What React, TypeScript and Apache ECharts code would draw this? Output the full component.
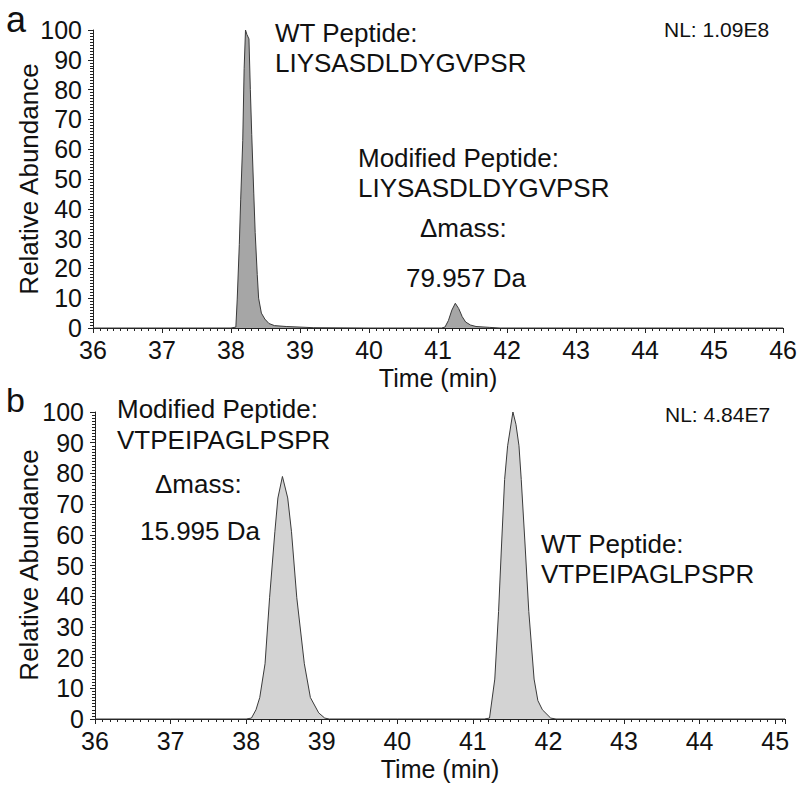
import React, { useEffect, useRef } from 'react';
import * as echarts from 'echarts';

// Panel a: LIYSASDLDYGVPSR chromatogram
const aTimes = [36.0, 37.0, 38.0, 38.07, 38.09, 38.12, 38.14, 38.17, 38.19, 38.21, 38.23, 38.26, 38.28, 38.30, 38.33, 38.35, 38.38, 38.40, 38.44, 38.49, 38.55, 38.63, 38.8, 39.0, 39.2, 40.0, 41.0, 41.05, 41.10, 41.15, 41.20, 41.25, 41.30, 41.35, 41.40, 41.47, 41.55, 41.75, 41.9, 43.0, 46.0];
const aValues = [0, 0, 0, 0.3, 9.7, 28, 43, 63, 87, 100, 98.5, 97, 80, 65, 45, 32, 18, 10, 5, 3, 1.5, 0.8, 0.5, 0.3, 0.1, 0, 0, 0, 0.3, 2.5, 6, 8.3, 6.5, 3.8, 2.0, 1.0, 0.5, 0.2, 0, 0, 0];

// Panel b: VTPEIPAGLPSPR chromatogram
const bTimes = [36.0, 37.0, 38.0, 38.07, 38.13, 38.18, 38.25, 38.31, 38.38, 38.42, 38.48, 38.55, 38.60, 38.67, 38.77, 38.85, 38.96, 39.04, 39.1, 40.0, 41.0, 41.15, 41.22, 41.29, 41.34, 41.38, 41.42, 41.46, 41.53, 41.57, 41.61, 41.64, 41.69, 41.74, 41.81, 41.86, 41.92, 42.03, 42.1, 43.0, 45.13];
const bValues = [0, 0, 0, 0.3, 3, 7, 18, 39.5, 61, 72, 79, 72, 61, 39.5, 18, 7, 2, 0.3, 0, 0, 0, 0, 0.3, 13, 35, 57, 78, 89, 100, 96, 89, 78, 57, 35, 13, 6, 3, 0.3, 0, 0, 0];

const yTicks = [0, 10, 20, 30, 40, 50, 60, 70, 80, 90, 100];

const FONT = '"Liberation Sans", Arial, Helvetica, sans-serif';

function zip(t: number[], v: number[]) {
  return t.map((x, i) => [x, v[i]]);
}

export default function App() {
  const ref = useRef<HTMLDivElement>(null);
  useEffect(() => {
    if (!ref.current) return;
    const chart = echarts.init(ref.current, undefined, { renderer: 'svg' });
    const axisColor = '#222';
    const mkX = (gridIndex: number, max: number, nameGap: number) => ({
      type: 'value',
      gridIndex,
      min: 36,
      max,
      interval: 1,
      name: 'Time (min)',
      nameLocation: 'middle',
      nameGap,
      nameTextStyle: { fontSize: 25, color: '#111', fontFamily: FONT },
      axisLine: { show: true, onZero: false, lineStyle: { color: axisColor, width: 1 } },
      axisTick: { show: true, inside: false, length: 5, lineStyle: { color: axisColor } },
      minorTick: { show: true, splitNumber: 10, length: 3, lineStyle: { color: axisColor } },
      splitLine: { show: false },
      minorSplitLine: { show: false },
      axisLabel: {
        fontSize: 25,
        color: '#111',
        fontFamily: FONT,
        margin: 9,
        formatter: (v: number) => (Math.abs(v - Math.round(v)) < 1e-6 ? String(Math.round(v)) : ''),
      },
    });
    const mkY = (gridIndex: number) => ({
      type: 'value',
      gridIndex,
      min: yTicks[0],
      max: yTicks[yTicks.length - 1],
      interval: 10,
      axisLine: { show: true, lineStyle: { color: axisColor, width: 1 } },
      axisTick: { show: true, inside: false, length: 5, lineStyle: { color: axisColor } },
      minorTick: { show: true, splitNumber: 10, length: 3, lineStyle: { color: axisColor } },
      splitLine: { show: false },
      axisLabel: { fontSize: 25, color: '#111', fontFamily: FONT, margin: 11 },
    });
    const txt = (text: string, x: number, y: number, size: number) => ({
      type: 'text',
      x,
      y,
      style: {
        text,
        fontSize: size,
        fontFamily: FONT,
        fill: '#111',
        textVerticalAlign: 'middle',
        verticalAlign: 'middle',
      },
    });
    const vtxt = (text: string, x: number, y: number, size: number) => ({
      type: 'text',
      x,
      y,
      rotation: Math.PI / 2,
      style: {
        text,
        fontSize: size,
        fontFamily: FONT,
        fill: '#111',
        textAlign: 'center',
        align: 'center',
        textVerticalAlign: 'middle',
        verticalAlign: 'middle',
      },
    });
    chart.setOption({
      animation: false,
      backgroundColor: '#fff',
      grid: [
        { left: 93, top: 30, width: 692, height: 298 },
        { left: 95, top: 412, width: 690, height: 307 },
      ],
      xAxis: [mkX(0, 46, 37), mkX(1, 45.13, 37)],
      yAxis: [mkY(0), mkY(1)],
      series: [
        {
          type: 'line',
          xAxisIndex: 0,
          yAxisIndex: 0,
          data: zip(aTimes, aValues),
          symbol: 'none',
          lineStyle: { color: '#3a3a3a', width: 1 },
          areaStyle: { color: '#a6a6a6', opacity: 1 },
        },
        {
          type: 'line',
          xAxisIndex: 1,
          yAxisIndex: 1,
          data: zip(bTimes, bValues),
          symbol: 'none',
          lineStyle: { color: '#3a3a3a', width: 1 },
          areaStyle: { color: '#d3d3d3', opacity: 1 },
        },
      ],
      graphic: [
        vtxt('Relative Abundance', 29, 179, 26),
        vtxt('Relative Abundance', 29, 565, 26),
        txt('a', 6, 19, 36),
        txt('WT Peptide:', 275, 33, 26),
        txt('LIYSASDLDYGVPSR', 275, 63, 26),
        txt('NL: 1.09E8', 664, 29, 21),
        txt('Modified Peptide:', 358, 158, 26),
        txt('LIYSASDLDYGVPSR', 358, 188, 26),
        txt('Δmass:', 420, 228, 26),
        txt('79.957 Da', 406, 278, 26),
        txt('b', 6, 400, 34),
        txt('Modified Peptide:', 117, 409, 26),
        txt('VTPEIPAGLPSPR', 117, 440, 26),
        txt('Δmass:', 155, 484, 26),
        txt('15.995 Da', 140, 531, 26),
        txt('NL: 4.84E7', 665, 414, 21),
        txt('WT Peptide:', 541, 544, 26),
        txt('VTPEIPAGLPSPR', 541, 574, 26),
      ],
    });
    return () => chart.dispose();
  }, []);
  return <div ref={ref} style={{ width: 800, height: 791, position: 'absolute', left: 0, top: 0 }} />;
}
